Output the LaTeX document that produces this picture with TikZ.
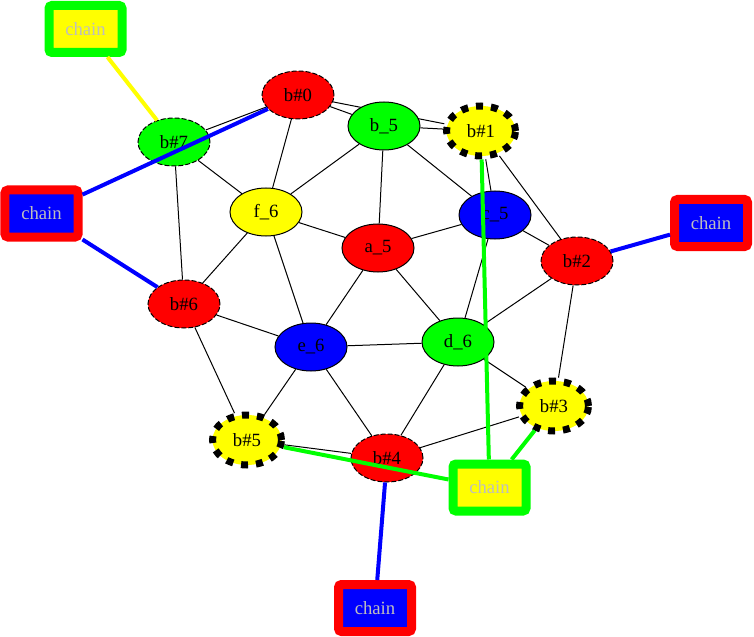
\documentclass[tikz,border=0pt]{standalone}
\usepackage{fontspec}
\setmainfont{Liberation Serif}
\usetikzlibrary{shapes.geometric,backgrounds}
\definecolor{gvgreen}{RGB}{0,255,0}
\definecolor{gvred}{RGB}{255,0,0}
\definecolor{gvblue}{RGB}{0,0,255}
\definecolor{gvyellow}{RGB}{255,255,0}
\definecolor{gvgray}{RGB}{190,190,190}
\tikzset{
  gvnode/.style={ellipse, draw=black, line width=1bp, minimum width=72bp, minimum height=48bp, inner sep=0pt, font=\fontsize{18.7bp}{21bp}\selectfont},
  solidn/.style={gvnode},
  thindash/.style={gvnode, dash pattern=on 5bp off 2bp},
  thickdash/.style={gvnode, line width=7bp, minimum width=69bp, minimum height=50bp, dash pattern=on 7bp off 8bp},
  chainbox/.style={rectangle, line width=9bp, rounded corners=3bp, minimum width=73bp, minimum height=47bp, inner sep=0pt, text=gvgray, font=\fontsize{18.7bp}{21bp}\selectfont},
  blk/.style={draw=black, line width=1bp},
  colored/.style={line width=4bp}
}
\begin{document}
\begin{tikzpicture}[x=1bp,y=-1bp]
\useasboundingbox (0,0) rectangle (754,637);
% nodes
\node[thindash, fill=gvred] (b0) at (298,95) {b\#0};
\node[thindash, fill=gvgreen] (b7) at (174,142) {b\#7};
\node[solidn, fill=gvgreen] (b5) at (384,126) {b\_5};
\node[thickdash, fill=gvyellow] (b1) at (481,131) {b\#1};
\node[solidn, fill=gvyellow] (f6) at (266,212) {f\_6};
\node[solidn, fill=gvblue] (c5) at (495,215) {c\_5};
\node[solidn, fill=gvred] (a5) at (378,248) {a\_5};
\node[thindash, fill=gvred] (b2) at (577,261) {b\#2};
\node[thindash, fill=gvred] (b6) at (184,304) {b\#6};
\node[solidn, fill=gvblue] (e6) at (311,347) {e\_6};
\node[solidn, fill=gvgreen] (d6) at (458,342) {d\_6};
\node[thickdash, fill=gvyellow] (b3) at (554,406) {b\#3};
\node[thickdash, fill=gvyellow] (bb5) at (247,440) {b\#5};
\node[thindash, fill=gvred] (b4) at (387,458) {b\#4};
% chain boxes
\node[chainbox, draw=gvgreen, fill=gvyellow] (chTL) at (85.5,29) {chain};
\node[chainbox, draw=gvred, fill=gvblue] (chL) at (41.5,213.5) {chain};
\node[chainbox, draw=gvred, fill=gvblue] (chR) at (711,223) {chain};
\node[chainbox, draw=gvred, fill=gvblue] (chB) at (375,608) {chain};
\node[chainbox, draw=gvgreen, fill=gvyellow] (chBR) at (489.5,487.5) {chain};
% black edges behind nodes
\begin{pgfonlayer}{background}
\draw[blk] (b0) -- (b7);
\draw[blk] (b0) -- (b5);
\draw[blk] (b0) -- (b1);
\draw[blk] (b0) -- (f6);
\draw[blk] (b7) -- (f6);
\draw[blk] (b7) -- (b6);
\draw[blk] (b5) -- (b1);
\draw[blk] (b5) -- (f6);
\draw[blk] (b5) -- (a5);
\draw[blk] (b5) -- (c5);
\draw[blk] (b1) -- (c5);
\draw[blk] (b1) -- (b2);
\draw[blk] (f6) -- (a5);
\draw[blk] (f6) -- (b6);
\draw[blk] (f6) -- (e6);
\draw[blk] (c5) -- (a5);
\draw[blk] (c5) -- (b2);
\draw[blk] (c5) -- (d6);
\draw[blk] (a5) -- (e6);
\draw[blk] (a5) -- (d6);
\draw[blk] (b2) -- (d6);
\draw[blk] (b2) -- (b3);
\draw[blk] (b6) -- (e6);
\draw[blk] (b6) -- (bb5);
\draw[blk] (e6) -- (d6);
\draw[blk] (e6) -- (bb5);
\draw[blk] (e6) -- (b4);
\draw[blk] (d6) -- (b4);
\draw[blk] (d6) -- (b3);
\draw[blk] (bb5) -- (b4);
\draw[blk] (b4) -- (b3);
\end{pgfonlayer}
% colored edges on top
\draw[colored, draw=gvyellow] (chTL) -- (b7);
\draw[colored, draw=gvblue] (chL) -- (b0);
\draw[colored, draw=gvblue] (chL) -- (b6);
\draw[colored, draw=gvblue] (chR) -- (b2);
\draw[colored, draw=gvblue] (chB) -- (b4);
\draw[colored, draw=gvgreen] (chBR) -- (b1);
\draw[colored, draw=gvgreen] (chBR) -- (b3);
\draw[colored, draw=gvgreen] (chBR) -- (bb5);
\end{tikzpicture}
\end{document}
